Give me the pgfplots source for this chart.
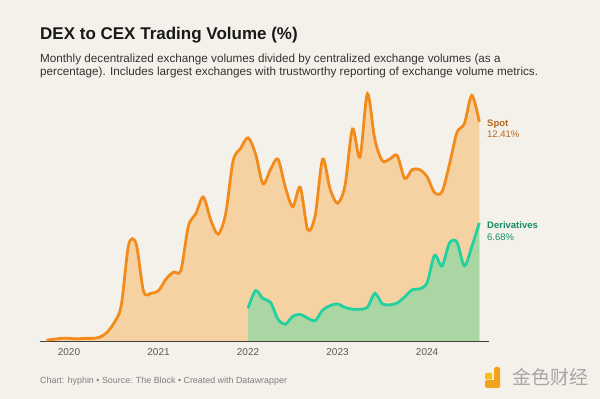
\documentclass[border=0pt]{standalone}
\usepackage{pgfplots}
\pgfplotsset{compat=1.18}
\usepackage{fontspec}
\setmainfont{Liberation Sans}
\newfontfamily\cjk{Noto Sans CJK SC}
\definecolor{bg}{HTML}{F3F1EA}
\definecolor{spotline}{HTML}{F28B1C}
\definecolor{spotfill}{HTML}{F6D2A3}
\definecolor{derline}{HTML}{22D0A0}
\definecolor{derfill}{HTML}{A9D6A2}
\definecolor{spottext}{HTML}{B8661C}
\definecolor{dertext}{HTML}{168C66}
\definecolor{logo}{HTML}{F2A31E}
\begin{document}
\begin{tikzpicture}
\fill[bg] (0pt,0pt) rectangle (600pt,399pt);
\node[anchor=base west, inner sep=0pt, font=\fontsize{17}{20}\selectfont\bfseries, text=black!90] at (40pt,359.5pt) {DEX to CEX Trading Volume (\%)};
\node[anchor=base west, inner sep=0pt, font=\fontsize{11.7}{13}\selectfont, text=black!80] at (40pt,336.5pt) {Monthly decentralized exchange volumes divided by centralized exchange volumes (as a};
\node[anchor=base west, inner sep=0pt, font=\fontsize{11.7}{13}\selectfont, text=black!80] at (40pt,323pt) {percentage). Includes largest exchanges with trustworthy reporting of exchange volume metrics.};
\begin{axis}[
  at={(39.6pt,58pt)}, anchor=south west,
  scale only axis, width=449.4pt, height=265pt,
  xmin=-3.94, xmax=56.3, ymin=0, ymax=15,
  clip=false,
  axis x line=bottom, axis y line=none,
  axis line style={-, color=black!75, line width=0.9pt},
  xtick={0,12,24,36,48},
  xticklabels={2020,2021,2022,2023,2024},
  major tick length=0pt,
  xticklabel style={font=\fontsize{10}{11}\selectfont, text=black!65, yshift=-4pt},
  ytick=\empty,
]
\addplot[draw=none, fill=spotfill, smooth, tension=0.5] coordinates {
(-3,0.05) (-2,0.1) (-1,0.15) (0,0.15) (1,0.12) (2,0.15) (3,0.15) (4,0.2)
(5,0.45) (6,1.0) (7,2.0) (8,5.45) (9,5.5) (10,2.8) (11,2.7) (12,2.85)
(13,3.5) (14,3.9) (15,4.0) (16,6.5) (17,7.2) (18,8.15) (19,6.85) (20,6.05)
(21,7.2) (22,10.2) (23,10.9) (24,11.5) (25,10.6) (26,8.9) (27,9.7) (28,10.3)
(29,8.7) (30,7.6) (31,8.7) (32,6.3) (33,7.1) (34,10.3) (35,8.6) (36,7.8)
(37,8.8) (38,12.0) (39,10.4) (40,14.0) (41,11.4) (42,10.2) (43,10.3) (44,10.5)
(45,9.2) (46,9.7) (47,9.7) (48,9.3) (49,8.4) (50,8.45) (51,10.0) (52,11.8)
(53,12.3) (54,13.9) (55,12.41)
} \closedcycle;
\addplot[color=spotline, line width=2.8pt, smooth, tension=0.5] coordinates {
(-3,0.05) (-2,0.1) (-1,0.15) (0,0.15) (1,0.12) (2,0.15) (3,0.15) (4,0.2)
(5,0.45) (6,1.0) (7,2.0) (8,5.45) (9,5.5) (10,2.8) (11,2.7) (12,2.85)
(13,3.5) (14,3.9) (15,4.0) (16,6.5) (17,7.2) (18,8.15) (19,6.85) (20,6.05)
(21,7.2) (22,10.2) (23,10.9) (24,11.5) (25,10.6) (26,8.9) (27,9.7) (28,10.3)
(29,8.7) (30,7.6) (31,8.7) (32,6.3) (33,7.1) (34,10.3) (35,8.6) (36,7.8)
(37,8.8) (38,12.0) (39,10.4) (40,14.0) (41,11.4) (42,10.2) (43,10.3) (44,10.5)
(45,9.2) (46,9.7) (47,9.7) (48,9.3) (49,8.4) (50,8.45) (51,10.0) (52,11.8)
(53,12.3) (54,13.9) (55,12.41)
};
\addplot[draw=none, fill=derfill, smooth, tension=0.5] coordinates {
(24,1.85) (25,2.85) (26,2.4) (27,2.2) (28,1.25) (29,0.95) (30,1.4) (31,1.5)
(32,1.3) (33,1.15) (34,1.75) (35,2.0) (36,2.1) (37,1.9) (38,1.8) (39,1.8)
(40,1.9) (41,2.7) (42,2.1) (43,2.05) (44,2.15) (45,2.5) (46,2.9) (47,2.95)
(48,3.3) (49,4.85) (50,4.25) (51,5.55) (52,5.6) (53,4.25) (54,5.35) (55,6.68)
} \closedcycle;
\addplot[color=derline, line width=2.8pt, smooth, tension=0.5] coordinates {
(24,1.85) (25,2.85) (26,2.4) (27,2.2) (28,1.25) (29,0.95) (30,1.4) (31,1.5)
(32,1.3) (33,1.15) (34,1.75) (35,2.0) (36,2.1) (37,1.9) (38,1.8) (39,1.8)
(40,1.9) (41,2.7) (42,2.1) (43,2.05) (44,2.15) (45,2.5) (46,2.9) (47,2.95)
(48,3.3) (49,4.85) (50,4.25) (51,5.55) (52,5.6) (53,4.25) (54,5.35) (55,6.68)
};
\end{axis}
\node[anchor=base west, inner sep=0pt, font=\fontsize{9.5}{11}\selectfont\bfseries, text=spottext] at (487pt,272pt) {Spot};
\node[anchor=base west, inner sep=0pt, font=\fontsize{9.5}{11}\selectfont, text=spottext] at (487pt,261pt) {12.41\%};
\node[anchor=base west, inner sep=0pt, font=\fontsize{9.5}{11}\selectfont\bfseries, text=dertext] at (487pt,170pt) {Derivatives};
\node[anchor=base west, inner sep=0pt, font=\fontsize{9.5}{11}\selectfont, text=dertext] at (487pt,158pt) {6.68\%};
\node[anchor=base west, inner sep=0pt, font=\fontsize{8.9}{10}\selectfont, text=black!50] at (40pt,15pt) {Chart: hyphin {\textbullet} Source: The Block {\textbullet} Created with Datawrapper};
% watermark
\fill[logo, rounded corners=1.5pt] (485pt,11pt) rectangle (500pt,19pt);
\fill[logo, rounded corners=1.5pt] (494pt,11pt) rectangle (500pt,32pt);
\fill[logo!70!yellow, rounded corners=1pt] (485pt,19.5pt) rectangle (492pt,26pt);
\node[anchor=base west, inner sep=0pt, font=\cjk\fontsize{19}{20}\selectfont, text=black!35] at (512pt,14pt) {金色财经};
\end{tikzpicture}
\end{document}
